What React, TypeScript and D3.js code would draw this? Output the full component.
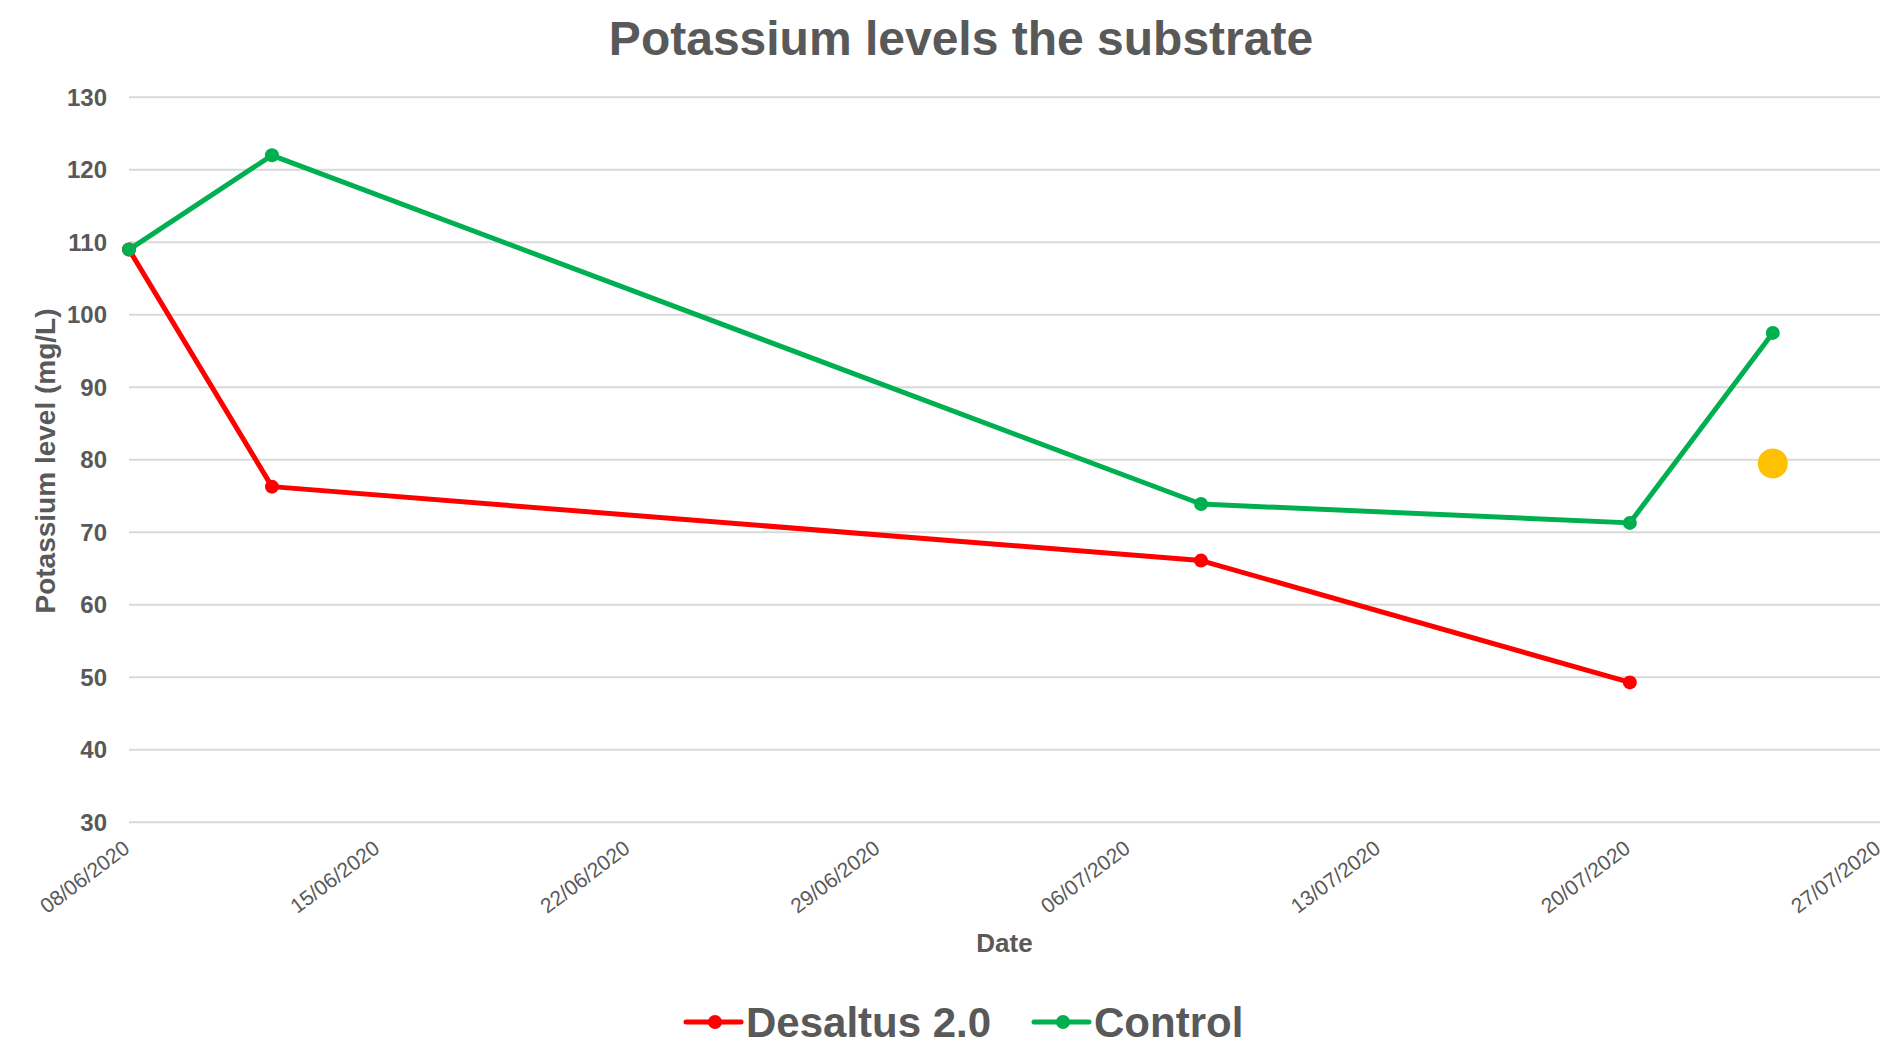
import { useEffect, useRef } from "react";
import * as d3 from "d3";

const dates = ["2020-06-08", "2020-06-12", "2020-07-08", "2020-07-20", "2020-07-24"];
const desaltus = [109, 76.3, 66.1, 49.3];
const control = [109, 122, 73.9, 71.3, 97.5];
const extraDate = "2020-07-24";
const extraValue = 79.5;
const yTicks = [30, 40, 50, 60, 70, 80, 90, 100, 110, 120, 130];
const xDomain = ["2020-06-08", "2020-07-27"];

const W = 1900;
const H = 1042;
const TEXT = "#595959";
const FONT = "'Liberation Sans', Arial, sans-serif";

export default function App() {
  const ref = useRef<SVGSVGElement | null>(null);

  useEffect(() => {
    if (!ref.current) return;
    const svg = d3.select(ref.current);
    svg.selectAll("*").remove();

    const parse = (s: string) => new Date(s + "T00:00:00Z");
    const x = d3
      .scaleUtc()
      .domain(xDomain.map(parse))
      .range([129, 1880]);
    const y = d3.scaleLinear().domain([30, 130]).range([822.3, 97.3]);

    svg.append("rect").attr("width", W).attr("height", H).attr("fill", "#fff");

    // gridlines
    svg
      .append("g")
      .selectAll("line")
      .data(yTicks)
      .join("line")
      .attr("x1", 129)
      .attr("x2", 1880)
      .attr("y1", (d) => y(d))
      .attr("y2", (d) => y(d))
      .attr("stroke", "#d9d9d9")
      .attr("stroke-width", 2);

    // y tick labels
    svg
      .append("g")
      .selectAll("text")
      .data(yTicks)
      .join("text")
      .attr("x", 107)
      .attr("y", (d) => y(d))
      .attr("dy", "0.36em")
      .attr("text-anchor", "end")
      .attr("font-family", FONT)
      .attr("font-weight", "bold")
      .attr("font-size", 24)
      .attr("fill", TEXT)
      .text((d) => d);

    // x tick labels
    const xTicks = d3.utcMonday.range(parse(xDomain[0]), d3.utcDay.offset(parse(xDomain[1]), 1));
    const fmt = d3.utcFormat("%d/%m/%Y");
    svg
      .append("g")
      .selectAll("text")
      .data(xTicks)
      .join("text")
      .attr("transform", (d) => `translate(${x(d) + 2},${851}) rotate(-37)`)
      .attr("text-anchor", "end")
      .attr("font-family", FONT)
      .attr("font-size", 21)
      .attr("fill", TEXT)
      .text((d) => fmt(d));

    const line = d3
      .line<[Date, number]>()
      .x((d) => x(d[0]))
      .y((d) => y(d[1]));

    const series = [
      { name: "Desaltus 2.0", values: desaltus, color: "#ff0000" },
      { name: "Control", values: control, color: "#00b050" },
    ];

    series.forEach((s) => {
      const pts: [Date, number][] = s.values.map((v, i) => [parse(dates[i]), v]);
      svg
        .append("path")
        .datum(pts)
        .attr("fill", "none")
        .attr("stroke", s.color)
        .attr("stroke-width", 5)
        .attr("stroke-linejoin", "round")
        .attr("d", line);
      svg
        .append("g")
        .selectAll("circle")
        .data(pts)
        .join("circle")
        .attr("cx", (d) => x(d[0]))
        .attr("cy", (d) => y(d[1]))
        .attr("r", 7)
        .attr("fill", s.color);
    });

    svg
      .append("circle")
      .attr("cx", x(parse(extraDate)))
      .attr("cy", y(extraValue))
      .attr("r", 15)
      .attr("fill", "#ffc000");

    // title
    svg
      .append("text")
      .attr("x", 961)
      .attr("y", 55)
      .attr("text-anchor", "middle")
      .attr("font-family", FONT)
      .attr("font-weight", "bold")
      .attr("font-size", 48)
      .attr("fill", TEXT)
      .text("Potassium levels the substrate");

    // axis titles
    svg
      .append("text")
      .attr("transform", "translate(55,461) rotate(-90)")
      .attr("text-anchor", "middle")
      .attr("font-family", FONT)
      .attr("font-weight", "bold")
      .attr("font-size", 28)
      .attr("fill", TEXT)
      .text("Potassium level (mg/L)");

    svg
      .append("text")
      .attr("x", 1004.5)
      .attr("y", 952)
      .attr("text-anchor", "middle")
      .attr("font-family", FONT)
      .attr("font-weight", "bold")
      .attr("font-size", 26)
      .attr("fill", TEXT)
      .text("Date");

    // legend
    const legendX = [686, 1034];
    series.forEach((s, i) => {
      const g = svg.append("g").attr("transform", `translate(${legendX[i]},1022)`);
      g.append("line")
        .attr("x1", 0)
        .attr("x2", 55)
        .attr("stroke", s.color)
        .attr("stroke-width", 5)
        .attr("stroke-linecap", "round");
      g.append("circle").attr("cx", 29).attr("r", 7).attr("fill", s.color);
      g.append("text")
        .attr("x", 60)
        .attr("y", 15)
        .attr("font-family", FONT)
        .attr("font-weight", "bold")
        .attr("font-size", 42)
        .attr("fill", TEXT)
        .text(s.name);
    });
  }, []);

  return (
    <div style={{ position: "absolute", left: 0, top: 0 }}>
      <svg ref={ref} width={W} height={H} style={{ display: "block" }} />
    </div>
  );
}
